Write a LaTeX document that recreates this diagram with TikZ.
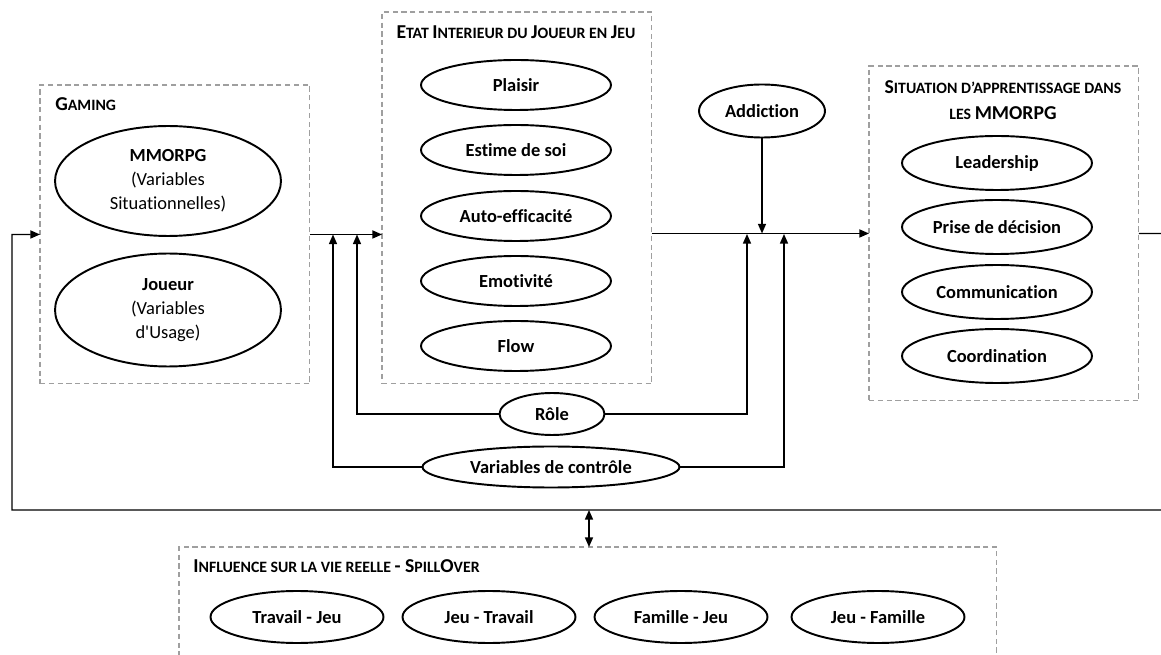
\documentclass[tikz,border=0pt]{standalone}
\usepackage{fontspec}
\setmainfont{Carlito}[Ligatures={NoCommon,TeXOff}]
\usetikzlibrary{arrows.meta,shapes.geometric}

% fake small caps: big first letter, smaller rest
\newcommand{\scap}[2]{{\fontsize{11.2}{14.7}\selectfont #1}{\fontsize{9}{14.7}\selectfont #2}}

\begin{document}
\begin{tikzpicture}[
  x=0.02cm,y=-0.02cm,
  >={Triangle[length=5.5pt,width=4.6pt]},
  every node/.style={font=\bfseries\fontsize{10.5}{13.6}\selectfont},
  oval/.style={draw,ellipse,line width=1.1pt,inner sep=0pt,align=center},
  zone/.style={draw=gray!75,dashed,dash pattern=on 3pt off 2pt,line width=0.6pt,
    rectangle,anchor=north west,inner sep=0pt,outer sep=0pt},
  boxtitle/.style={inner sep=0pt,align=center},
  flow/.style={line width=0.8pt}
]
  \useasboundingbox (0,0) rectangle (1161,655);

  % zones
  \node[zone,minimum width=5.4cm,minimum height=5.98cm] (gaming) at (40,85) {};
  \node[zone,minimum width=5.4cm,minimum height=7.44cm] (etat) at (382,12) {};
  \node[zone,minimum width=5.4cm,minimum height=6.7cm] (situation) at (869,66) {};
  \node[zone,minimum width=16.36cm,minimum height=2.8cm] (influence) at (179,547) {};

  % titles
  \node[boxtitle,anchor=west] (tgaming) at (55,104) {\scap{G}{AMING}};
  \node[boxtitle] (tetat) at (516,32)
    {\scap{E}{TAT }\scap{I}{NTERIEUR DU }\scap{J}{OUEUR EN }\scap{J}{EU}};
  \node[boxtitle,font=\bfseries\fontsize{10.5}{14.7}\selectfont] (tsituation) at (1003,100)
    {\scap{S}{ITUATION D’APPRENTISSAGE DANS}\\\scap{}{LES }\scap{MMORPG}{}};
  \node[boxtitle,anchor=west] (tinfluence) at (193,566)
    {\scap{I}{NFLUENCE SUR LA VIE REELLE }\scap{- S}{PILL}\scap{O}{VER}};

  % gaming
  \node[oval,minimum width=4.52cm,minimum height=2.2cm] (mmorpg) at (168,181)
    {MMORPG\\\mdseries(Variables\\\mdseries Situationnelles)};
  \node[oval,minimum width=4.52cm,minimum height=2.26cm] (joueur) at (168,310)
    {Joueur\\\mdseries(Variables\\\mdseries d'Usage)};

  % etat interieur
  \foreach \name/\txt/\y in {plaisir/Plaisir/85,estime/Estime de soi/150,
      auto/Auto-efficacité/216,emo/Emotivité/281,flow/Flow/346}
    \node[oval,minimum width=3.8cm,minimum height=1.0cm] (\name) at (516,\y) {\txt};

  % situation d'apprentissage
  \foreach \name/\txt/\y in {lead/Leadership/163,prise/Prise de décision/227,
      comm/Communication/292,coord/Coordination/356}
    \node[oval,minimum width=3.8cm,minimum height=1.08cm] (\name) at (997,\y) {\txt};

  % spillover
  \foreach \name/\txt/\x in {tj/Travail - Jeu/297,jt/Jeu - Travail/489,
      fj/Famille - Jeu/681,jf/Jeu - Famille/878}
    \node[oval,minimum width=3.46cm,minimum height=1.04cm] (\name) at (\x,617) {\txt};

  % moderators
  \node[oval,minimum width=2.52cm,minimum height=1.06cm] (addiction) at (762,111) {Addiction};
  \node[oval,minimum width=2.1cm,minimum height=0.84cm] (role) at (552,414) {Rôle};
  \node[oval,minimum width=5.14cm,minimum height=0.82cm] (ctrl) at (551,467) {Variables de contrôle};

  % junctions on the main line
  \coordinate (j1) at (333,234.5);
  \coordinate (j2) at (357,234.5);
  \coordinate (j3) at (747,234);
  \coordinate (j4) at (784,234);
  \coordinate (loopR) at (1180,233.5);
  \coordinate (spill) at (589,510);

  % connectors
  \draw[flow,->] (gaming.east) -- (etat.west |- gaming.east);
  \draw[flow,->] (etat.east |- situation.west) -- (situation.west);
  \draw[flow,->] (addiction.south) -- (addiction.south |- situation.west);
  \draw[flow,->] (role.west) -| (j2);
  \draw[flow,->] (role.east) -| (j3);
  \draw[flow,->] (ctrl.west) -| (j1);
  \draw[flow,->] (ctrl.east) -| (j4);
  \draw[flow,->] (situation.east) -- (loopR) |- (12,510) |- (gaming.west);
  \draw[flow,<->] (spill) -- (spill |- influence.north);
\end{tikzpicture}
\end{document}
